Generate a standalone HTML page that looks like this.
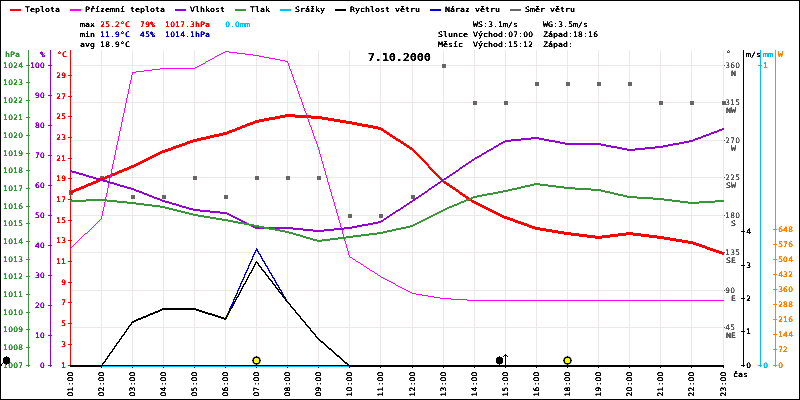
<!DOCTYPE html>
<html lang="cs">
<head>
<meta charset="utf-8">
<title>7.10.2000</title>
<style>html,body{margin:0;padding:0;background:#fff;overflow:hidden}svg{display:block;position:absolute;left:0;top:0}text{white-space:pre}</style>
</head>
<body>
<svg width="800" height="400" viewBox="0 0 800 400" font-family='"DejaVu Sans Mono","Liberation Mono",monospace' font-size="7.5">
<rect x="0" y="0" width="800" height="400" fill="#ffffff"/>
<g shape-rendering="crispEdges">
<rect x="101" y="50" width="1" height="315" fill="#ece8e7"/>
<rect x="132" y="50" width="1" height="315" fill="#ece8e7"/>
<rect x="163" y="50" width="1" height="315" fill="#ece8e7"/>
<rect x="194" y="50" width="1" height="315" fill="#ece8e7"/>
<rect x="225" y="50" width="1" height="315" fill="#ece8e7"/>
<rect x="256" y="50" width="1" height="315" fill="#ece8e7"/>
<rect x="287" y="50" width="1" height="315" fill="#ece8e7"/>
<rect x="318" y="50" width="1" height="315" fill="#ece8e7"/>
<rect x="349" y="50" width="1" height="315" fill="#ece8e7"/>
<rect x="380" y="50" width="1" height="315" fill="#ece8e7"/>
<rect x="412" y="50" width="1" height="315" fill="#ece8e7"/>
<rect x="443" y="50" width="1" height="315" fill="#ece8e7"/>
<rect x="474" y="50" width="1" height="315" fill="#ece8e7"/>
<rect x="505" y="50" width="1" height="315" fill="#ece8e7"/>
<rect x="536" y="50" width="1" height="315" fill="#ece8e7"/>
<rect x="567" y="50" width="1" height="315" fill="#ece8e7"/>
<rect x="598" y="50" width="1" height="315" fill="#ece8e7"/>
<rect x="629" y="50" width="1" height="315" fill="#ece8e7"/>
<rect x="660" y="50" width="1" height="315" fill="#ece8e7"/>
<rect x="691" y="50" width="1" height="315" fill="#ece8e7"/>
<rect x="723" y="50" width="1" height="315" fill="#ece8e7"/>
<rect x="72" y="327" width="652" height="1" fill="#ece8e7"/>
<rect x="72" y="290" width="652" height="1" fill="#ece8e7"/>
<rect x="72" y="252" width="652" height="1" fill="#ece8e7"/>
<rect x="72" y="215" width="652" height="1" fill="#ece8e7"/>
<rect x="72" y="177" width="652" height="1" fill="#ece8e7"/>
<rect x="72" y="140" width="652" height="1" fill="#ece8e7"/>
<rect x="72" y="102" width="652" height="1" fill="#ece8e7"/>
<rect x="72" y="65" width="652" height="1" fill="#ece8e7"/>
<rect x="70" y="50" width="1" height="317" fill="#ff0000"/>
<rect x="68" y="365" width="4" height="1" fill="#ff0000"/>
<rect x="68" y="344" width="4" height="1" fill="#ff0000"/>
<rect x="68" y="323" width="4" height="1" fill="#ff0000"/>
<rect x="68" y="302" width="4" height="1" fill="#ff0000"/>
<rect x="68" y="282" width="4" height="1" fill="#ff0000"/>
<rect x="68" y="261" width="4" height="1" fill="#ff0000"/>
<rect x="68" y="240" width="4" height="1" fill="#ff0000"/>
<rect x="68" y="220" width="4" height="1" fill="#ff0000"/>
<rect x="68" y="199" width="4" height="1" fill="#ff0000"/>
<rect x="68" y="178" width="4" height="1" fill="#ff0000"/>
<rect x="68" y="158" width="4" height="1" fill="#ff0000"/>
<rect x="68" y="137" width="4" height="1" fill="#ff0000"/>
<rect x="68" y="116" width="4" height="1" fill="#ff0000"/>
<rect x="68" y="96" width="4" height="1" fill="#ff0000"/>
<rect x="68" y="75" width="4" height="1" fill="#ff0000"/>
<rect x="69" y="190" width="4" height="5" fill="#666666"/>
<rect x="100" y="176" width="4" height="4" fill="#666666"/>
<rect x="131" y="195" width="4" height="4" fill="#666666"/>
<rect x="162" y="195" width="4" height="4" fill="#666666"/>
<rect x="193" y="176" width="4" height="4" fill="#666666"/>
<rect x="224" y="195" width="4" height="4" fill="#666666"/>
<rect x="255" y="176" width="4" height="4" fill="#666666"/>
<rect x="286" y="176" width="4" height="4" fill="#666666"/>
<rect x="317" y="176" width="4" height="4" fill="#666666"/>
<rect x="348" y="214" width="4" height="4" fill="#666666"/>
<rect x="379" y="214" width="4" height="4" fill="#666666"/>
<rect x="411" y="195" width="4" height="4" fill="#666666"/>
<rect x="442" y="64" width="4" height="4" fill="#666666"/>
<rect x="473" y="101" width="4" height="4" fill="#666666"/>
<rect x="504" y="101" width="4" height="4" fill="#666666"/>
<rect x="535" y="82" width="4" height="4" fill="#666666"/>
<rect x="566" y="82" width="4" height="4" fill="#666666"/>
<rect x="597" y="82" width="4" height="4" fill="#666666"/>
<rect x="628" y="82" width="4" height="4" fill="#666666"/>
<rect x="659" y="101" width="4" height="4" fill="#666666"/>
<rect x="690" y="101" width="4" height="4" fill="#666666"/>
<rect x="722" y="101" width="4" height="4" fill="#666666"/>
<path fill="#ff0000" d="M285 114h10v1h-10zM280 115h31v1h-31zM275 116h47v1h-47zM269 117h16v1h-16zM295 117h33v1h-33zM264 118h16v1h-16zM311 118h23v1h-23zM259 119h16v1h-16zM322 119h18v1h-18zM255 120h14v1h-14zM328 120h18v1h-18zM253 121h11v1h-11zM334 121h18v1h-18zM250 122h9v1h-9zM340 122h17v1h-17zM247 123h8v1h-8zM346 123h16v1h-16zM245 124h8v1h-8zM352 124h16v1h-16zM242 125h8v1h-8zM357 125h16v1h-16zM240 126h7v1h-7zM362 126h16v1h-16zM237 127h8v1h-8zM368 127h13v1h-13zM235 128h7v1h-7zM373 128h10v1h-10zM232 129h8v1h-8zM378 129h6v1h-6zM229 130h8v1h-8zM381 130h5v1h-5zM227 131h8v1h-8zM383 131h4v1h-4zM223 132h9v1h-9zM384 132h5v1h-5zM219 133h10v1h-10zM386 133h4v1h-4zM214 134h13v1h-13zM387 134h5v1h-5zM210 135h13v1h-13zM389 135h4v1h-4zM206 136h13v1h-13zM390 136h5v1h-5zM201 137h13v1h-13zM392 137h4v1h-4zM197 138h13v1h-13zM393 138h5v1h-5zM193 139h13v1h-13zM395 139h5v1h-5zM190 140h11v1h-11zM396 140h5v1h-5zM187 141h10v1h-10zM398 141h5v1h-5zM185 142h8v1h-8zM400 142h4v1h-4zM182 143h8v1h-8zM401 143h5v1h-5zM179 144h8v1h-8zM403 144h4v1h-4zM176 145h9v1h-9zM404 145h5v1h-5zM173 146h9v1h-9zM406 146h4v1h-4zM171 147h8v1h-8zM407 147h5v1h-5zM168 148h8v1h-8zM409 148h4v1h-4zM165 149h8v1h-8zM410 149h4v1h-4zM162 150h9v1h-9zM412 150h3v1h-3zM160 151h8v1h-8zM413 151h3v1h-3zM158 152h7v1h-7zM414 152h3v1h-3zM156 153h6v1h-6zM415 153h3v1h-3zM154 154h6v1h-6zM416 154h3v1h-3zM152 155h6v1h-6zM417 155h3v1h-3zM150 156h6v1h-6zM418 156h3v1h-3zM148 157h6v1h-6zM419 157h3v1h-3zM146 158h6v1h-6zM420 158h3v1h-3zM144 159h6v1h-6zM421 159h3v1h-3zM142 160h6v1h-6zM422 160h3v1h-3zM140 161h6v1h-6zM423 161h3v1h-3zM138 162h6v1h-6zM424 162h3v1h-3zM136 163h6v1h-6zM425 163h3v1h-3zM134 164h6v1h-6zM426 164h3v1h-3zM131 165h7v1h-7zM427 165h2v1h-2zM129 166h7v1h-7zM428 166h2v1h-2zM127 167h7v1h-7zM428 167h3v1h-3zM124 168h7v1h-7zM429 168h3v1h-3zM122 169h7v1h-7zM430 169h3v1h-3zM119 170h8v1h-8zM431 170h3v1h-3zM117 171h7v1h-7zM432 171h3v1h-3zM115 172h7v1h-7zM433 172h3v1h-3zM112 173h7v1h-7zM434 173h3v1h-3zM110 174h7v1h-7zM435 174h3v1h-3zM107 175h8v1h-8zM436 175h3v1h-3zM105 176h7v1h-7zM437 176h3v1h-3zM103 177h7v1h-7zM438 177h3v1h-3zM100 178h7v1h-7zM439 178h3v1h-3zM98 179h7v1h-7zM440 179h3v1h-3zM96 180h7v1h-7zM441 180h3v1h-3zM93 181h7v1h-7zM442 181h4v1h-4zM91 182h7v1h-7zM443 182h4v1h-4zM88 183h8v1h-8zM444 183h5v1h-5zM86 184h7v1h-7zM446 184h4v1h-4zM84 185h7v1h-7zM447 185h5v1h-5zM81 186h7v1h-7zM449 186h4v1h-4zM79 187h7v1h-7zM450 187h5v1h-5zM76 188h8v1h-8zM452 188h4v1h-4zM74 189h7v1h-7zM453 189h5v1h-5zM72 190h7v1h-7zM455 190h4v1h-4zM70 191h6v1h-6zM456 191h4v1h-4zM70 192h4v1h-4zM458 192h4v1h-4zM70 193h2v1h-2zM459 193h4v1h-4zM460 194h5v1h-5zM462 195h4v1h-4zM463 196h5v1h-5zM465 197h4v1h-4zM466 198h5v1h-5zM468 199h4v1h-4zM469 200h5v1h-5zM471 201h5v1h-5zM472 202h6v1h-6zM474 203h6v1h-6zM476 204h6v1h-6zM478 205h6v1h-6zM480 206h6v1h-6zM482 207h6v1h-6zM484 208h6v1h-6zM486 209h6v1h-6zM488 210h6v1h-6zM490 211h6v1h-6zM492 212h6v1h-6zM494 213h6v1h-6zM496 214h6v1h-6zM498 215h6v1h-6zM500 216h7v1h-7zM502 217h8v1h-8zM504 218h9v1h-9zM507 219h8v1h-8zM510 220h8v1h-8zM513 221h8v1h-8zM515 222h9v1h-9zM518 223h9v1h-9zM521 224h8v1h-8zM524 225h8v1h-8zM527 226h8v1h-8zM529 227h11v1h-11zM532 228h14v1h-14zM535 229h17v1h-17zM540 230h18v1h-18zM546 231h18v1h-18zM552 232h19v1h-19zM626 232h7v1h-7zM558 233h21v1h-21zM618 233h23v1h-23zM564 234h23v1h-23zM610 234h39v1h-39zM571 235h24v1h-24zM602 235h24v1h-24zM633 235h24v1h-24zM579 236h39v1h-39zM641 236h23v1h-23zM587 237h23v1h-23zM649 237h21v1h-21zM595 238h7v1h-7zM657 238h19v1h-19zM664 239h18v1h-18zM670 240h18v1h-18zM676 241h17v1h-17zM682 242h14v1h-14zM688 243h11v1h-11zM693 244h9v1h-9zM696 245h9v1h-9zM699 246h8v1h-8zM702 247h8v1h-8zM705 248h8v1h-8zM707 249h9v1h-9zM710 250h9v1h-9zM713 251h9v1h-9zM716 252h8v1h-8zM719 253h5v1h-5zM722 254h2v1h-2z"/>
<path fill="#ff00ff" d="M225 51h4v1h-4zM223 52h2v1h-2zM229 52h8v1h-8zM221 53h2v1h-2zM237 53h8v1h-8zM219 54h2v1h-2zM245 54h8v1h-8zM217 55h2v1h-2zM253 55h6v1h-6zM215 56h2v1h-2zM259 56h5v1h-5zM214 57h1v1h-1zM264 57h5v1h-5zM212 58h2v1h-2zM269 58h6v1h-6zM210 59h2v1h-2zM275 59h5v1h-5zM208 60h2v1h-2zM280 60h5v1h-5zM206 61h2v1h-2zM285 61h3v1h-3zM205 62h1v1h-1zM287 62h1v1h-1zM203 63h2v1h-2zM288 63h1v1h-1zM201 64h2v1h-2zM288 64h1v1h-1zM199 65h2v1h-2zM288 65h1v1h-1zM197 66h2v1h-2zM289 66h1v1h-1zM195 67h2v1h-2zM289 67h1v1h-1zM160 68h35v1h-35zM289 68h1v1h-1zM152 69h8v1h-8zM290 69h1v1h-1zM144 70h8v1h-8zM290 70h1v1h-1zM136 71h8v1h-8zM291 71h1v1h-1zM132 72h4v1h-4zM291 72h1v1h-1zM132 73h1v1h-1zM291 73h1v1h-1zM132 74h1v1h-1zM292 74h1v1h-1zM131 75h1v1h-1zM292 75h1v1h-1zM131 76h1v1h-1zM292 76h1v1h-1zM131 77h1v1h-1zM293 77h1v1h-1zM131 78h1v1h-1zM293 78h1v1h-1zM131 79h1v1h-1zM293 79h1v1h-1zM130 80h1v1h-1zM294 80h1v1h-1zM130 81h1v1h-1zM294 81h1v1h-1zM130 82h1v1h-1zM294 82h1v1h-1zM130 83h1v1h-1zM295 83h1v1h-1zM129 84h1v1h-1zM295 84h1v1h-1zM129 85h1v1h-1zM296 85h1v1h-1zM129 86h1v1h-1zM296 86h1v1h-1zM129 87h1v1h-1zM296 87h1v1h-1zM129 88h1v1h-1zM297 88h1v1h-1zM128 89h1v1h-1zM297 89h1v1h-1zM128 90h1v1h-1zM297 90h1v1h-1zM128 91h1v1h-1zM298 91h1v1h-1zM128 92h1v1h-1zM298 92h1v1h-1zM128 93h1v1h-1zM298 93h1v1h-1zM127 94h1v1h-1zM299 94h1v1h-1zM127 95h1v1h-1zM299 95h1v1h-1zM127 96h1v1h-1zM299 96h1v1h-1zM127 97h1v1h-1zM300 97h1v1h-1zM126 98h1v1h-1zM300 98h1v1h-1zM126 99h1v1h-1zM301 99h1v1h-1zM126 100h1v1h-1zM301 100h1v1h-1zM126 101h1v1h-1zM301 101h1v1h-1zM126 102h1v1h-1zM302 102h1v1h-1zM125 103h1v1h-1zM302 103h1v1h-1zM125 104h1v1h-1zM302 104h1v1h-1zM125 105h1v1h-1zM303 105h1v1h-1zM125 106h1v1h-1zM303 106h1v1h-1zM125 107h1v1h-1zM303 107h1v1h-1zM124 108h1v1h-1zM304 108h1v1h-1zM124 109h1v1h-1zM304 109h1v1h-1zM124 110h1v1h-1zM304 110h1v1h-1zM124 111h1v1h-1zM305 111h1v1h-1zM124 112h1v1h-1zM305 112h1v1h-1zM123 113h1v1h-1zM306 113h1v1h-1zM123 114h1v1h-1zM306 114h1v1h-1zM123 115h1v1h-1zM306 115h1v1h-1zM123 116h1v1h-1zM307 116h1v1h-1zM122 117h1v1h-1zM307 117h1v1h-1zM122 118h1v1h-1zM307 118h1v1h-1zM122 119h1v1h-1zM308 119h1v1h-1zM122 120h1v1h-1zM308 120h1v1h-1zM122 121h1v1h-1zM308 121h1v1h-1zM121 122h1v1h-1zM309 122h1v1h-1zM121 123h1v1h-1zM309 123h1v1h-1zM121 124h1v1h-1zM309 124h1v1h-1zM121 125h1v1h-1zM310 125h1v1h-1zM121 126h1v1h-1zM310 126h1v1h-1zM120 127h1v1h-1zM311 127h1v1h-1zM120 128h1v1h-1zM311 128h1v1h-1zM120 129h1v1h-1zM311 129h1v1h-1zM120 130h1v1h-1zM312 130h1v1h-1zM119 131h1v1h-1zM312 131h1v1h-1zM119 132h1v1h-1zM312 132h1v1h-1zM119 133h1v1h-1zM313 133h1v1h-1zM119 134h1v1h-1zM313 134h1v1h-1zM119 135h1v1h-1zM313 135h1v1h-1zM118 136h1v1h-1zM314 136h1v1h-1zM118 137h1v1h-1zM314 137h1v1h-1zM118 138h1v1h-1zM314 138h1v1h-1zM118 139h1v1h-1zM315 139h1v1h-1zM118 140h1v1h-1zM315 140h1v1h-1zM117 141h1v1h-1zM316 141h1v1h-1zM117 142h1v1h-1zM316 142h1v1h-1zM117 143h1v1h-1zM316 143h1v1h-1zM117 144h1v1h-1zM317 144h1v1h-1zM116 145h1v1h-1zM317 145h1v1h-1zM116 146h1v1h-1zM317 146h1v1h-1zM116 147h1v1h-1zM318 147h1v1h-1zM116 148h1v1h-1zM318 148h1v1h-1zM116 149h1v1h-1zM318 149h1v1h-1zM115 150h1v1h-1zM319 150h1v1h-1zM115 151h1v1h-1zM319 151h1v1h-1zM115 152h1v1h-1zM319 152h1v1h-1zM115 153h1v1h-1zM319 153h1v1h-1zM115 154h1v1h-1zM320 154h1v1h-1zM114 155h1v1h-1zM320 155h1v1h-1zM114 156h1v1h-1zM320 156h1v1h-1zM114 157h1v1h-1zM321 157h1v1h-1zM114 158h1v1h-1zM321 158h1v1h-1zM114 159h1v1h-1zM321 159h1v1h-1zM113 160h1v1h-1zM321 160h1v1h-1zM113 161h1v1h-1zM322 161h1v1h-1zM113 162h1v1h-1zM322 162h1v1h-1zM113 163h1v1h-1zM322 163h1v1h-1zM112 164h1v1h-1zM323 164h1v1h-1zM112 165h1v1h-1zM323 165h1v1h-1zM112 166h1v1h-1zM323 166h1v1h-1zM112 167h1v1h-1zM323 167h1v1h-1zM112 168h1v1h-1zM324 168h1v1h-1zM111 169h1v1h-1zM324 169h1v1h-1zM111 170h1v1h-1zM324 170h1v1h-1zM111 171h1v1h-1zM325 171h1v1h-1zM111 172h1v1h-1zM325 172h1v1h-1zM111 173h1v1h-1zM325 173h1v1h-1zM110 174h1v1h-1zM325 174h1v1h-1zM110 175h1v1h-1zM326 175h1v1h-1zM110 176h1v1h-1zM326 176h1v1h-1zM110 177h1v1h-1zM326 177h1v1h-1zM109 178h1v1h-1zM327 178h1v1h-1zM109 179h1v1h-1zM327 179h1v1h-1zM109 180h1v1h-1zM327 180h1v1h-1zM109 181h1v1h-1zM327 181h1v1h-1zM109 182h1v1h-1zM328 182h1v1h-1zM108 183h1v1h-1zM328 183h1v1h-1zM108 184h1v1h-1zM328 184h1v1h-1zM108 185h1v1h-1zM329 185h1v1h-1zM108 186h1v1h-1zM329 186h1v1h-1zM108 187h1v1h-1zM329 187h1v1h-1zM107 188h1v1h-1zM329 188h1v1h-1zM107 189h1v1h-1zM330 189h1v1h-1zM107 190h1v1h-1zM330 190h1v1h-1zM107 191h1v1h-1zM330 191h1v1h-1zM107 192h1v1h-1zM331 192h1v1h-1zM106 193h1v1h-1zM331 193h1v1h-1zM106 194h1v1h-1zM331 194h1v1h-1zM106 195h1v1h-1zM331 195h1v1h-1zM106 196h1v1h-1zM332 196h1v1h-1zM105 197h1v1h-1zM332 197h1v1h-1zM105 198h1v1h-1zM332 198h1v1h-1zM105 199h1v1h-1zM333 199h1v1h-1zM105 200h1v1h-1zM333 200h1v1h-1zM105 201h1v1h-1zM333 201h1v1h-1zM104 202h1v1h-1zM334 202h1v1h-1zM104 203h1v1h-1zM334 203h1v1h-1zM104 204h1v1h-1zM334 204h1v1h-1zM104 205h1v1h-1zM334 205h1v1h-1zM104 206h1v1h-1zM335 206h1v1h-1zM103 207h1v1h-1zM335 207h1v1h-1zM103 208h1v1h-1zM335 208h1v1h-1zM103 209h1v1h-1zM336 209h1v1h-1zM103 210h1v1h-1zM336 210h1v1h-1zM102 211h1v1h-1zM336 211h1v1h-1zM102 212h1v1h-1zM336 212h1v1h-1zM102 213h1v1h-1zM337 213h1v1h-1zM102 214h1v1h-1zM337 214h1v1h-1zM102 215h1v1h-1zM337 215h1v1h-1zM101 216h1v1h-1zM338 216h1v1h-1zM101 217h1v1h-1zM338 217h1v1h-1zM101 218h1v1h-1zM338 218h1v1h-1zM100 219h1v1h-1zM338 219h1v1h-1zM99 220h1v1h-1zM339 220h1v1h-1zM98 221h1v1h-1zM339 221h1v1h-1zM97 222h1v1h-1zM339 222h1v1h-1zM96 223h1v1h-1zM340 223h1v1h-1zM95 224h1v1h-1zM340 224h1v1h-1zM94 225h1v1h-1zM340 225h1v1h-1zM93 226h1v1h-1zM340 226h1v1h-1zM92 227h1v1h-1zM341 227h1v1h-1zM91 228h1v1h-1zM341 228h1v1h-1zM90 229h1v1h-1zM341 229h1v1h-1zM89 230h1v1h-1zM342 230h1v1h-1zM88 231h1v1h-1zM342 231h1v1h-1zM87 232h1v1h-1zM342 232h1v1h-1zM85 233h2v1h-2zM342 233h1v1h-1zM84 234h1v1h-1zM343 234h1v1h-1zM83 235h1v1h-1zM343 235h1v1h-1zM82 236h1v1h-1zM343 236h1v1h-1zM81 237h1v1h-1zM344 237h1v1h-1zM80 238h1v1h-1zM344 238h1v1h-1zM79 239h1v1h-1zM344 239h1v1h-1zM78 240h1v1h-1zM344 240h1v1h-1zM77 241h1v1h-1zM345 241h1v1h-1zM76 242h1v1h-1zM345 242h1v1h-1zM75 243h1v1h-1zM345 243h1v1h-1zM74 244h1v1h-1zM346 244h1v1h-1zM73 245h1v1h-1zM346 245h1v1h-1zM72 246h1v1h-1zM346 246h1v1h-1zM71 247h1v1h-1zM346 247h1v1h-1zM70 248h1v1h-1zM347 248h1v1h-1zM347 249h1v1h-1zM347 250h1v1h-1zM348 251h1v1h-1zM348 252h1v1h-1zM348 253h1v1h-1zM348 254h1v1h-1zM349 255h1v1h-1zM349 256h1v1h-1zM350 257h2v1h-2zM352 258h1v1h-1zM353 259h2v1h-2zM355 260h1v1h-1zM356 261h2v1h-2zM358 262h2v1h-2zM360 263h1v1h-1zM361 264h2v1h-2zM363 265h1v1h-1zM364 266h2v1h-2zM366 267h1v1h-1zM367 268h2v1h-2zM369 269h1v1h-1zM370 270h2v1h-2zM372 271h2v1h-2zM374 272h1v1h-1zM375 273h2v1h-2zM377 274h1v1h-1zM378 275h2v1h-2zM380 276h1v1h-1zM381 277h2v1h-2zM383 278h2v1h-2zM385 279h2v1h-2zM387 280h2v1h-2zM389 281h2v1h-2zM391 282h2v1h-2zM393 283h2v1h-2zM395 284h1v1h-1zM396 285h2v1h-2zM398 286h2v1h-2zM400 287h2v1h-2zM402 288h2v1h-2zM404 289h2v1h-2zM406 290h2v1h-2zM408 291h2v1h-2zM410 292h2v1h-2zM412 293h4v1h-4zM416 294h6v1h-6zM422 295h6v1h-6zM428 296h6v1h-6zM434 297h6v1h-6zM440 298h11v1h-11zM451 299h16v1h-16zM467 300h257v1h-257z"/>
<path fill="#9400d3" d="M722 128h2v1h-2zM719 129h5v1h-5zM717 130h5v1h-5zM714 131h5v1h-5zM711 132h6v1h-6zM709 133h5v1h-5zM706 134h5v1h-5zM703 135h6v1h-6zM701 136h5v1h-5zM531 137h8v1h-8zM698 137h5v1h-5zM521 138h23v1h-23zM695 138h6v1h-6zM511 139h20v1h-20zM539 139h10v1h-10zM693 139h5v1h-5zM505 140h16v1h-16zM544 140h11v1h-11zM689 140h6v1h-6zM503 141h8v1h-8zM549 141h11v1h-11zM684 141h9v1h-9zM501 142h4v1h-4zM555 142h10v1h-10zM679 142h10v1h-10zM499 143h4v1h-4zM560 143h41v1h-41zM673 143h11v1h-11zM498 144h3v1h-3zM565 144h41v1h-41zM668 144h11v1h-11zM496 145h3v1h-3zM601 145h10v1h-10zM663 145h10v1h-10zM494 146h4v1h-4zM606 146h11v1h-11zM655 146h13v1h-13zM493 147h3v1h-3zM611 147h11v1h-11zM645 147h18v1h-18zM491 148h3v1h-3zM617 148h10v1h-10zM635 148h20v1h-20zM489 149h4v1h-4zM622 149h23v1h-23zM487 150h4v1h-4zM627 150h8v1h-8zM486 151h3v1h-3zM484 152h3v1h-3zM482 153h4v1h-4zM481 154h3v1h-3zM479 155h3v1h-3zM477 156h4v1h-4zM475 157h4v1h-4zM474 158h3v1h-3zM472 159h3v1h-3zM471 160h3v1h-3zM469 161h3v1h-3zM468 162h3v1h-3zM466 163h3v1h-3zM465 164h3v1h-3zM463 165h3v1h-3zM462 166h3v1h-3zM460 167h3v1h-3zM459 168h3v1h-3zM458 169h2v1h-2zM70 170h2v1h-2zM456 170h3v1h-3zM70 171h6v1h-6zM455 171h3v1h-3zM72 172h7v1h-7zM453 172h3v1h-3zM76 173h7v1h-7zM452 173h3v1h-3zM79 174h7v1h-7zM450 174h3v1h-3zM83 175h6v1h-6zM449 175h3v1h-3zM86 176h7v1h-7zM447 176h3v1h-3zM89 177h7v1h-7zM446 177h3v1h-3zM93 178h7v1h-7zM444 178h3v1h-3zM96 179h7v1h-7zM443 179h3v1h-3zM100 180h7v1h-7zM441 180h3v1h-3zM103 181h7v1h-7zM440 181h3v1h-3zM107 182h7v1h-7zM438 182h3v1h-3zM110 183h7v1h-7zM437 183h3v1h-3zM114 184h6v1h-6zM435 184h3v1h-3zM117 185h7v1h-7zM434 185h3v1h-3zM120 186h7v1h-7zM432 186h3v1h-3zM124 187h7v1h-7zM431 187h3v1h-3zM127 188h7v1h-7zM429 188h3v1h-3zM131 189h5v1h-5zM428 189h3v1h-3zM134 190h5v1h-5zM427 190h2v1h-2zM136 191h6v1h-6zM425 191h3v1h-3zM139 192h5v1h-5zM424 192h3v1h-3zM142 193h5v1h-5zM422 193h3v1h-3zM144 194h5v1h-5zM421 194h3v1h-3zM147 195h5v1h-5zM419 195h3v1h-3zM149 196h5v1h-5zM418 196h3v1h-3zM152 197h5v1h-5zM416 197h3v1h-3zM154 198h6v1h-6zM415 198h3v1h-3zM157 199h5v1h-5zM413 199h3v1h-3zM160 200h5v1h-5zM412 200h3v1h-3zM162 201h7v1h-7zM410 201h3v1h-3zM165 202h7v1h-7zM409 202h3v1h-3zM169 203h7v1h-7zM407 203h3v1h-3zM172 204h7v1h-7zM406 204h3v1h-3zM176 205h6v1h-6zM404 205h3v1h-3zM179 206h7v1h-7zM403 206h3v1h-3zM182 207h7v1h-7zM401 207h3v1h-3zM186 208h7v1h-7zM400 208h3v1h-3zM189 209h11v1h-11zM398 209h3v1h-3zM193 210h17v1h-17zM396 210h4v1h-4zM200 211h20v1h-20zM395 211h3v1h-3zM210 212h17v1h-17zM393 212h3v1h-3zM220 213h9v1h-9zM392 213h3v1h-3zM227 214h4v1h-4zM390 214h3v1h-3zM229 215h4v1h-4zM389 215h3v1h-3zM231 216h4v1h-4zM387 216h3v1h-3zM233 217h4v1h-4zM386 217h3v1h-3zM235 218h4v1h-4zM384 218h3v1h-3zM237 219h4v1h-4zM383 219h3v1h-3zM239 220h4v1h-4zM381 220h3v1h-3zM241 221h4v1h-4zM378 221h5v1h-5zM243 222h4v1h-4zM373 222h8v1h-8zM245 223h4v1h-4zM368 223h10v1h-10zM247 224h4v1h-4zM362 224h11v1h-11zM249 225h4v1h-4zM357 225h11v1h-11zM251 226h4v1h-4zM352 226h10v1h-10zM253 227h40v1h-40zM344 227h13v1h-13zM255 228h48v1h-48zM334 228h18v1h-18zM293 229h20v1h-20zM324 229h20v1h-20zM303 230h31v1h-31zM313 231h11v1h-11z"/>
<path fill="#389638" d="M534 183h6v1h-6zM530 184h18v1h-18zM525 185h9v1h-9zM540 185h16v1h-16zM521 186h9v1h-9zM548 186h16v1h-16zM517 187h8v1h-8zM556 187h19v1h-19zM512 188h9v1h-9zM564 188h27v1h-27zM508 189h9v1h-9zM575 189h26v1h-26zM503 190h9v1h-9zM591 190h14v1h-14zM498 191h10v1h-10zM601 191h9v1h-9zM493 192h10v1h-10zM605 192h9v1h-9zM487 193h11v1h-11zM610 193h8v1h-8zM482 194h11v1h-11zM614 194h9v1h-9zM477 195h10v1h-10zM618 195h9v1h-9zM473 196h9v1h-9zM623 196h14v1h-14zM471 197h6v1h-6zM627 197h26v1h-26zM469 198h4v1h-4zM637 198h27v1h-27zM86 199h21v1h-21zM466 199h5v1h-5zM653 199h19v1h-19zM70 200h47v1h-47zM464 200h5v1h-5zM664 200h16v1h-16zM715 200h9v1h-9zM70 201h16v1h-16zM107 201h20v1h-20zM461 201h5v1h-5zM672 201h16v1h-16zM699 201h25v1h-25zM117 202h19v1h-19zM459 202h5v1h-5zM680 202h35v1h-35zM127 203h17v1h-17zM457 203h4v1h-4zM688 203h11v1h-11zM136 204h16v1h-16zM454 204h5v1h-5zM144 205h16v1h-16zM452 205h5v1h-5zM152 206h13v1h-13zM449 206h5v1h-5zM160 207h9v1h-9zM447 207h5v1h-5zM165 208h8v1h-8zM445 208h4v1h-4zM169 209h8v1h-8zM443 209h4v1h-4zM173 210h8v1h-8zM441 210h4v1h-4zM177 211h8v1h-8zM439 211h4v1h-4zM181 212h8v1h-8zM437 212h4v1h-4zM185 213h8v1h-8zM435 213h4v1h-4zM189 214h9v1h-9zM433 214h4v1h-4zM193 215h11v1h-11zM431 215h4v1h-4zM198 216h12v1h-12zM429 216h4v1h-4zM204 217h12v1h-12zM427 217h4v1h-4zM210 218h12v1h-12zM425 218h4v1h-4zM216 219h12v1h-12zM423 219h4v1h-4zM222 220h11v1h-11zM421 220h4v1h-4zM228 221h10v1h-10zM419 221h4v1h-4zM233 222h11v1h-11zM417 222h4v1h-4zM238 223h11v1h-11zM415 223h4v1h-4zM244 224h10v1h-10zM413 224h4v1h-4zM249 225h10v1h-10zM410 225h5v1h-5zM254 226h10v1h-10zM406 226h7v1h-7zM259 227h10v1h-10zM401 227h9v1h-9zM264 228h11v1h-11zM396 228h10v1h-10zM269 229h11v1h-11zM392 229h9v1h-9zM275 230h10v1h-10zM387 230h9v1h-9zM280 231h9v1h-9zM383 231h9v1h-9zM285 232h8v1h-8zM377 232h10v1h-10zM289 233h7v1h-7zM369 233h14v1h-14zM293 234h7v1h-7zM361 234h16v1h-16zM296 235h7v1h-7zM353 235h16v1h-16zM300 236h6v1h-6zM346 236h15v1h-15zM303 237h7v1h-7zM338 237h15v1h-15zM306 238h7v1h-7zM330 238h16v1h-16zM310 239h7v1h-7zM322 239h16v1h-16zM313 240h17v1h-17zM317 241h5v1h-5z"/>
<rect x="70" y="365" width="654" height="2" fill="#00bfff"/>
<path fill="#0000cd" d="M256 248h1v1h-1zM256 249h2v1h-2zM255 250h3v1h-3zM255 251h1v1h-1zM257 251h2v1h-2zM254 252h2v1h-2zM258 252h1v1h-1zM254 253h1v1h-1zM258 253h2v1h-2zM253 254h2v1h-2zM259 254h2v1h-2zM253 255h1v1h-1zM260 255h1v1h-1zM252 256h2v1h-2zM260 256h2v1h-2zM252 257h1v1h-1zM261 257h1v1h-1zM252 258h1v1h-1zM261 258h2v1h-2zM251 259h2v1h-2zM262 259h1v1h-1zM251 260h1v1h-1zM262 260h2v1h-2zM250 261h2v1h-2zM263 261h2v1h-2zM250 262h1v1h-1zM264 262h1v1h-1zM249 263h2v1h-2zM264 263h2v1h-2zM249 264h1v1h-1zM265 264h1v1h-1zM248 265h2v1h-2zM265 265h2v1h-2zM248 266h1v1h-1zM266 266h2v1h-2zM248 267h1v1h-1zM267 267h1v1h-1zM247 268h2v1h-2zM267 268h2v1h-2zM247 269h1v1h-1zM268 269h1v1h-1zM246 270h2v1h-2zM268 270h2v1h-2zM246 271h1v1h-1zM269 271h1v1h-1zM245 272h2v1h-2zM269 272h2v1h-2zM245 273h1v1h-1zM270 273h2v1h-2zM244 274h2v1h-2zM271 274h1v1h-1zM244 275h1v1h-1zM271 275h2v1h-2zM244 276h1v1h-1zM272 276h1v1h-1zM243 277h2v1h-2zM272 277h2v1h-2zM243 278h1v1h-1zM273 278h2v1h-2zM242 279h2v1h-2zM274 279h1v1h-1zM242 280h1v1h-1zM274 280h2v1h-2zM241 281h2v1h-2zM275 281h1v1h-1zM241 282h1v1h-1zM275 282h2v1h-2zM240 283h2v1h-2zM276 283h1v1h-1zM240 284h1v1h-1zM276 284h2v1h-2zM240 285h1v1h-1zM277 285h2v1h-2zM239 286h2v1h-2zM278 286h1v1h-1zM239 287h1v1h-1zM278 287h2v1h-2zM238 288h2v1h-2zM279 288h1v1h-1zM238 289h1v1h-1zM279 289h2v1h-2zM237 290h2v1h-2zM280 290h2v1h-2zM237 291h1v1h-1zM281 291h1v1h-1zM237 292h1v1h-1zM281 292h2v1h-2zM236 293h2v1h-2zM282 293h1v1h-1zM236 294h1v1h-1zM282 294h2v1h-2zM235 295h2v1h-2zM283 295h1v1h-1zM235 296h1v1h-1zM283 296h2v1h-2zM234 297h2v1h-2zM284 297h2v1h-2zM234 298h1v1h-1zM285 298h1v1h-1zM233 299h2v1h-2zM285 299h2v1h-2zM233 300h1v1h-1zM286 300h1v1h-1zM233 301h1v1h-1zM286 301h2v1h-2zM232 302h2v1h-2zM287 302h2v1h-2zM232 303h1v1h-1zM288 303h2v1h-2zM231 304h2v1h-2zM289 304h2v1h-2zM231 305h1v1h-1zM290 305h1v1h-1zM230 306h2v1h-2zM290 306h2v1h-2zM230 307h1v1h-1zM291 307h2v1h-2zM162 308h34v1h-34zM229 308h2v1h-2zM292 308h2v1h-2zM160 309h39v1h-39zM229 309h1v1h-1zM293 309h2v1h-2zM158 310h4v1h-4zM196 310h6v1h-6zM229 310h1v1h-1zM294 310h2v1h-2zM155 311h5v1h-5zM199 311h6v1h-6zM228 311h2v1h-2zM295 311h1v1h-1zM153 312h5v1h-5zM202 312h6v1h-6zM228 312h1v1h-1zM295 312h2v1h-2zM150 313h5v1h-5zM205 313h7v1h-7zM227 313h2v1h-2zM296 313h2v1h-2zM148 314h5v1h-5zM208 314h7v1h-7zM227 314h1v1h-1zM297 314h2v1h-2zM146 315h4v1h-4zM212 315h6v1h-6zM226 315h2v1h-2zM298 315h2v1h-2zM143 316h5v1h-5zM215 316h6v1h-6zM226 316h1v1h-1zM299 316h2v1h-2zM141 317h5v1h-5zM218 317h6v1h-6zM225 317h2v1h-2zM300 317h1v1h-1zM138 318h5v1h-5zM221 318h5v1h-5zM300 318h2v1h-2zM136 319h5v1h-5zM224 319h2v1h-2zM301 319h2v1h-2zM134 320h4v1h-4zM302 320h2v1h-2zM132 321h4v1h-4zM303 321h2v1h-2zM131 322h3v1h-3zM304 322h2v1h-2zM131 323h1v1h-1zM305 323h1v1h-1zM130 324h2v1h-2zM305 324h2v1h-2zM129 325h2v1h-2zM306 325h2v1h-2zM128 326h2v1h-2zM307 326h2v1h-2zM128 327h1v1h-1zM308 327h2v1h-2zM127 328h2v1h-2zM309 328h2v1h-2zM126 329h2v1h-2zM310 329h1v1h-1zM126 330h1v1h-1zM310 330h2v1h-2zM125 331h2v1h-2zM311 331h2v1h-2zM124 332h2v1h-2zM312 332h2v1h-2zM124 333h1v1h-1zM313 333h2v1h-2zM123 334h2v1h-2zM314 334h2v1h-2zM122 335h2v1h-2zM315 335h1v1h-1zM121 336h2v1h-2zM315 336h2v1h-2zM121 337h1v1h-1zM316 337h2v1h-2zM120 338h2v1h-2zM317 338h2v1h-2zM119 339h2v1h-2zM318 339h2v1h-2zM119 340h1v1h-1zM319 340h2v1h-2zM118 341h2v1h-2zM320 341h3v1h-3zM117 342h2v1h-2zM321 342h3v1h-3zM116 343h2v1h-2zM323 343h2v1h-2zM116 344h1v1h-1zM324 344h2v1h-2zM115 345h2v1h-2zM325 345h2v1h-2zM114 346h2v1h-2zM326 346h2v1h-2zM114 347h1v1h-1zM327 347h2v1h-2zM113 348h2v1h-2zM328 348h3v1h-3zM112 349h2v1h-2zM329 349h3v1h-3zM112 350h1v1h-1zM331 350h2v1h-2zM111 351h2v1h-2zM332 351h2v1h-2zM110 352h2v1h-2zM333 352h2v1h-2zM109 353h2v1h-2zM334 353h2v1h-2zM109 354h1v1h-1zM335 354h2v1h-2zM108 355h2v1h-2zM336 355h3v1h-3zM107 356h2v1h-2zM337 356h3v1h-3zM107 357h1v1h-1zM339 357h2v1h-2zM106 358h2v1h-2zM340 358h2v1h-2zM105 359h2v1h-2zM341 359h2v1h-2zM105 360h1v1h-1zM342 360h2v1h-2zM104 361h2v1h-2zM343 361h2v1h-2zM103 362h2v1h-2zM344 362h3v1h-3zM102 363h2v1h-2zM345 363h3v1h-3zM102 364h1v1h-1zM347 364h2v1h-2zM70 365h33v1h-33zM348 365h376v1h-376zM70 366h32v1h-32zM349 366h375v1h-375z"/>
<path fill="#000000" d="M256 261h1v1h-1zM255 262h3v1h-3zM255 263h1v1h-1zM257 263h2v1h-2zM254 264h2v1h-2zM258 264h1v1h-1zM254 265h1v1h-1zM258 265h2v1h-2zM253 266h2v1h-2zM259 266h2v1h-2zM253 267h1v1h-1zM260 267h2v1h-2zM252 268h2v1h-2zM261 268h1v1h-1zM252 269h1v1h-1zM261 269h2v1h-2zM251 270h2v1h-2zM262 270h2v1h-2zM251 271h1v1h-1zM263 271h2v1h-2zM250 272h2v1h-2zM264 272h2v1h-2zM249 273h2v1h-2zM265 273h1v1h-1zM249 274h1v1h-1zM265 274h2v1h-2zM248 275h2v1h-2zM266 275h2v1h-2zM248 276h1v1h-1zM267 276h2v1h-2zM247 277h2v1h-2zM268 277h1v1h-1zM247 278h1v1h-1zM268 278h2v1h-2zM246 279h2v1h-2zM269 279h2v1h-2zM246 280h1v1h-1zM270 280h2v1h-2zM245 281h2v1h-2zM271 281h2v1h-2zM245 282h1v1h-1zM272 282h1v1h-1zM244 283h2v1h-2zM272 283h2v1h-2zM243 284h2v1h-2zM273 284h2v1h-2zM243 285h1v1h-1zM274 285h2v1h-2zM242 286h2v1h-2zM275 286h1v1h-1zM242 287h1v1h-1zM275 287h2v1h-2zM241 288h2v1h-2zM276 288h2v1h-2zM241 289h1v1h-1zM277 289h2v1h-2zM240 290h2v1h-2zM278 290h1v1h-1zM240 291h1v1h-1zM278 291h2v1h-2zM239 292h2v1h-2zM279 292h2v1h-2zM239 293h1v1h-1zM280 293h2v1h-2zM238 294h2v1h-2zM281 294h2v1h-2zM238 295h1v1h-1zM282 295h1v1h-1zM237 296h2v1h-2zM282 296h2v1h-2zM236 297h2v1h-2zM283 297h2v1h-2zM236 298h1v1h-1zM284 298h2v1h-2zM235 299h2v1h-2zM285 299h1v1h-1zM235 300h1v1h-1zM285 300h2v1h-2zM234 301h2v1h-2zM286 301h2v1h-2zM234 302h1v1h-1zM287 302h2v1h-2zM233 303h2v1h-2zM288 303h2v1h-2zM233 304h1v1h-1zM289 304h2v1h-2zM232 305h2v1h-2zM290 305h1v1h-1zM232 306h1v1h-1zM290 306h2v1h-2zM231 307h2v1h-2zM291 307h2v1h-2zM162 308h34v1h-34zM230 308h2v1h-2zM292 308h2v1h-2zM160 309h39v1h-39zM230 309h1v1h-1zM293 309h2v1h-2zM158 310h4v1h-4zM196 310h6v1h-6zM229 310h2v1h-2zM294 310h2v1h-2zM155 311h5v1h-5zM199 311h6v1h-6zM229 311h1v1h-1zM295 311h1v1h-1zM153 312h5v1h-5zM202 312h6v1h-6zM228 312h2v1h-2zM295 312h2v1h-2zM150 313h5v1h-5zM205 313h7v1h-7zM228 313h1v1h-1zM296 313h2v1h-2zM148 314h5v1h-5zM208 314h7v1h-7zM227 314h2v1h-2zM297 314h2v1h-2zM146 315h4v1h-4zM212 315h6v1h-6zM227 315h1v1h-1zM298 315h2v1h-2zM143 316h5v1h-5zM215 316h6v1h-6zM226 316h2v1h-2zM299 316h2v1h-2zM141 317h5v1h-5zM218 317h6v1h-6zM226 317h1v1h-1zM300 317h1v1h-1zM138 318h5v1h-5zM221 318h6v1h-6zM300 318h2v1h-2zM136 319h5v1h-5zM224 319h2v1h-2zM301 319h2v1h-2zM134 320h4v1h-4zM302 320h2v1h-2zM132 321h4v1h-4zM303 321h2v1h-2zM131 322h3v1h-3zM304 322h2v1h-2zM131 323h1v1h-1zM305 323h1v1h-1zM130 324h2v1h-2zM305 324h2v1h-2zM129 325h2v1h-2zM306 325h2v1h-2zM128 326h2v1h-2zM307 326h2v1h-2zM128 327h1v1h-1zM308 327h2v1h-2zM127 328h2v1h-2zM309 328h2v1h-2zM126 329h2v1h-2zM310 329h1v1h-1zM126 330h1v1h-1zM310 330h2v1h-2zM125 331h2v1h-2zM311 331h2v1h-2zM124 332h2v1h-2zM312 332h2v1h-2zM124 333h1v1h-1zM313 333h2v1h-2zM123 334h2v1h-2zM314 334h2v1h-2zM122 335h2v1h-2zM315 335h1v1h-1zM121 336h2v1h-2zM315 336h2v1h-2zM121 337h1v1h-1zM316 337h2v1h-2zM120 338h2v1h-2zM317 338h2v1h-2zM119 339h2v1h-2zM318 339h2v1h-2zM119 340h1v1h-1zM319 340h2v1h-2zM118 341h2v1h-2zM320 341h3v1h-3zM117 342h2v1h-2zM321 342h3v1h-3zM116 343h2v1h-2zM323 343h2v1h-2zM116 344h1v1h-1zM324 344h2v1h-2zM115 345h2v1h-2zM325 345h2v1h-2zM114 346h2v1h-2zM326 346h2v1h-2zM114 347h1v1h-1zM327 347h2v1h-2zM113 348h2v1h-2zM328 348h3v1h-3zM112 349h2v1h-2zM329 349h3v1h-3zM112 350h1v1h-1zM331 350h2v1h-2zM111 351h2v1h-2zM332 351h2v1h-2zM110 352h2v1h-2zM333 352h2v1h-2zM109 353h2v1h-2zM334 353h2v1h-2zM109 354h1v1h-1zM335 354h2v1h-2zM108 355h2v1h-2zM336 355h3v1h-3zM107 356h2v1h-2zM337 356h3v1h-3zM107 357h1v1h-1zM339 357h2v1h-2zM106 358h2v1h-2zM340 358h2v1h-2zM105 359h2v1h-2zM341 359h2v1h-2zM105 360h1v1h-1zM342 360h2v1h-2zM104 361h2v1h-2zM343 361h2v1h-2zM103 362h2v1h-2zM344 362h3v1h-3zM102 363h2v1h-2zM345 363h3v1h-3zM102 364h1v1h-1zM347 364h2v1h-2zM70 365h33v1h-33zM348 365h376v1h-376zM70 366h32v1h-32zM349 366h375v1h-375z"/>
<rect x="70" y="365" width="654" height="1" fill="#000000"/>
<rect x="101" y="367" width="1" height="1" fill="#000000"/>
<rect x="132" y="367" width="1" height="1" fill="#000000"/>
<rect x="163" y="367" width="1" height="1" fill="#000000"/>
<rect x="194" y="367" width="1" height="1" fill="#000000"/>
<rect x="225" y="367" width="1" height="1" fill="#000000"/>
<rect x="256" y="367" width="1" height="1" fill="#000000"/>
<rect x="287" y="367" width="1" height="1" fill="#000000"/>
<rect x="318" y="367" width="1" height="1" fill="#000000"/>
<rect x="349" y="367" width="1" height="1" fill="#000000"/>
<rect x="380" y="367" width="1" height="1" fill="#000000"/>
<rect x="412" y="367" width="1" height="1" fill="#000000"/>
<rect x="443" y="367" width="1" height="1" fill="#000000"/>
<rect x="474" y="367" width="1" height="1" fill="#000000"/>
<rect x="505" y="367" width="1" height="1" fill="#000000"/>
<rect x="536" y="367" width="1" height="1" fill="#000000"/>
<rect x="567" y="367" width="1" height="1" fill="#000000"/>
<rect x="598" y="367" width="1" height="1" fill="#000000"/>
<rect x="629" y="367" width="1" height="1" fill="#000000"/>
<rect x="660" y="367" width="1" height="1" fill="#000000"/>
<rect x="691" y="367" width="1" height="1" fill="#000000"/>
<rect x="723" y="367" width="1" height="1" fill="#000000"/>
<rect x="28" y="50" width="1" height="317" fill="#389638"/>
<rect x="50" y="50" width="1" height="317" fill="#9400d3"/>
<rect x="26" y="365" width="4" height="1" fill="#389638"/>
<rect x="26" y="347" width="4" height="1" fill="#389638"/>
<rect x="26" y="329" width="4" height="1" fill="#389638"/>
<rect x="26" y="312" width="4" height="1" fill="#389638"/>
<rect x="26" y="294" width="4" height="1" fill="#389638"/>
<rect x="26" y="276" width="4" height="1" fill="#389638"/>
<rect x="26" y="259" width="4" height="1" fill="#389638"/>
<rect x="26" y="241" width="4" height="1" fill="#389638"/>
<rect x="26" y="223" width="4" height="1" fill="#389638"/>
<rect x="26" y="206" width="4" height="1" fill="#389638"/>
<rect x="26" y="188" width="4" height="1" fill="#389638"/>
<rect x="26" y="170" width="4" height="1" fill="#389638"/>
<rect x="26" y="153" width="4" height="1" fill="#389638"/>
<rect x="26" y="135" width="4" height="1" fill="#389638"/>
<rect x="26" y="117" width="4" height="1" fill="#389638"/>
<rect x="26" y="100" width="4" height="1" fill="#389638"/>
<rect x="26" y="82" width="4" height="1" fill="#389638"/>
<rect x="26" y="65" width="4" height="1" fill="#389638"/>
<rect x="48" y="365" width="4" height="1" fill="#9400d3"/>
<rect x="48" y="335" width="4" height="1" fill="#9400d3"/>
<rect x="48" y="305" width="4" height="1" fill="#9400d3"/>
<rect x="48" y="275" width="4" height="1" fill="#9400d3"/>
<rect x="48" y="245" width="4" height="1" fill="#9400d3"/>
<rect x="48" y="215" width="4" height="1" fill="#9400d3"/>
<rect x="48" y="185" width="4" height="1" fill="#9400d3"/>
<rect x="48" y="155" width="4" height="1" fill="#9400d3"/>
<rect x="48" y="125" width="4" height="1" fill="#9400d3"/>
<rect x="48" y="95" width="4" height="1" fill="#9400d3"/>
<rect x="48" y="65" width="4" height="1" fill="#9400d3"/>
<rect x="743" y="50" width="1" height="317" fill="#000000"/>
<rect x="760" y="50" width="1" height="317" fill="#00bfff"/>
<rect x="775" y="50" width="1" height="317" fill="#ff8200"/>
<rect x="741" y="365" width="4" height="1" fill="#000000"/>
<rect x="741" y="331" width="4" height="1" fill="#000000"/>
<rect x="741" y="298" width="4" height="1" fill="#000000"/>
<rect x="741" y="265" width="4" height="1" fill="#000000"/>
<rect x="741" y="231" width="4" height="1" fill="#000000"/>
<rect x="758" y="365" width="4" height="1" fill="#00bfff"/>
<rect x="758" y="65" width="4" height="1" fill="#00bfff"/>
<rect x="773" y="365" width="4" height="1" fill="#ff8200"/>
<rect x="773" y="349" width="4" height="1" fill="#ff8200"/>
<rect x="773" y="334" width="4" height="1" fill="#ff8200"/>
<rect x="773" y="319" width="4" height="1" fill="#ff8200"/>
<rect x="773" y="304" width="4" height="1" fill="#ff8200"/>
<rect x="773" y="289" width="4" height="1" fill="#ff8200"/>
<rect x="773" y="274" width="4" height="1" fill="#ff8200"/>
<rect x="773" y="259" width="4" height="1" fill="#ff8200"/>
<rect x="773" y="244" width="4" height="1" fill="#ff8200"/>
<rect x="773" y="229" width="4" height="1" fill="#ff8200"/>
<rect x="724" y="327" width="1" height="1" fill="#555555"/>
<rect x="724" y="290" width="1" height="1" fill="#555555"/>
<rect x="724" y="252" width="1" height="1" fill="#555555"/>
<rect x="724" y="215" width="1" height="1" fill="#555555"/>
<rect x="724" y="177" width="1" height="1" fill="#555555"/>
<rect x="724" y="140" width="1" height="1" fill="#555555"/>
<rect x="724" y="102" width="1" height="1" fill="#555555"/>
<rect x="724" y="65" width="1" height="1" fill="#555555"/>
<rect x="10" y="9" width="11" height="2" fill="#ff0000"/>
<rect x="70" y="9" width="11" height="2" fill="#ff00ff"/>
<rect x="175" y="9" width="11" height="2" fill="#9400d3"/>
<rect x="235" y="9" width="11" height="2" fill="#389638"/>
<rect x="280" y="9" width="11" height="2" fill="#00bfff"/>
<rect x="335" y="9" width="11" height="2" fill="#000000"/>
<rect x="430" y="9" width="11" height="2" fill="#0000cd"/>
<rect x="510" y="9" width="11" height="2" fill="#666666"/>
<rect x="0" y="0" width="800" height="1" fill="#000"/>
<rect x="0" y="399" width="800" height="1" fill="#000"/>
<rect x="0" y="0" width="1" height="400" fill="#000"/>
<rect x="799" y="0" width="1" height="400" fill="#000"/>
</g>
<defs><filter id="crisp" x="0" y="0" width="800" height="400" filterUnits="userSpaceOnUse" color-interpolation-filters="sRGB"><feComponentTransfer><feFuncA type="table" tableValues="0 0 1 1"/></feComponentTransfer></filter></defs>
<g filter="url(#crisp)">
<text y="12.00" fill="#000000" stroke="#000000" stroke-width="0.3" transform="scale(1.1,1)" xml:space="preserve"><tspan x="22.74 27.29 31.83 36.38 40.92 45.47 50.01">Teplota</tspan></text>
<text y="12.00" fill="#000000" stroke="#000000" stroke-width="0.3" transform="scale(1.1,1)" xml:space="preserve"><tspan x="77.29 81.83 86.38 90.92 95.47 100.01 104.56 109.11 113.65 118.20 122.74 127.29 131.83 136.38 140.92 145.47">Přízemní teplota</tspan></text>
<text y="12.00" fill="#000000" stroke="#000000" stroke-width="0.3" transform="scale(1.1,1)" xml:space="preserve"><tspan x="172.74 177.29 181.83 186.38 190.92 195.47 200.01">Vlhkost</tspan></text>
<text y="12.00" fill="#000000" stroke="#000000" stroke-width="0.3" transform="scale(1.1,1)" xml:space="preserve"><tspan x="227.29 231.83 236.38 240.92">Tlak</tspan></text>
<text y="12.00" fill="#000000" stroke="#000000" stroke-width="0.3" transform="scale(1.1,1)" xml:space="preserve"><tspan x="268.20 272.74 277.29 281.83 286.38 290.92">Srážky</tspan></text>
<text y="12.00" fill="#000000" stroke="#000000" stroke-width="0.3" transform="scale(1.1,1)" xml:space="preserve"><tspan x="318.20 322.74 327.29 331.83 336.38 340.92 345.47 350.01 354.56 359.11 363.65 368.20 372.74 377.29">Rychlost větru</tspan></text>
<text y="12.00" fill="#000000" stroke="#000000" stroke-width="0.3" transform="scale(1.1,1)" xml:space="preserve"><tspan x="404.56 409.11 413.65 418.20 422.74 427.29 431.83 436.38 440.92 445.47 450.01">Náraz větru</tspan></text>
<text y="12.00" fill="#000000" stroke="#000000" stroke-width="0.3" transform="scale(1.1,1)" xml:space="preserve"><tspan x="477.29 481.83 486.38 490.92 495.47 500.01 504.56 509.11 513.65 518.20">Směr větru</tspan></text>
<text y="27.00" fill="#000000" stroke="#000000" stroke-width="0.3" transform="scale(1.1,1)" xml:space="preserve"><tspan x="72.74 77.29 81.83">max</tspan></text>
<text y="27.00" fill="#ff0000" stroke="#ff0000" stroke-width="0.3" transform="scale(1.1,1)" xml:space="preserve"><tspan x="91.04 95.58 101.20 104.67" font-family='"DejaVu Sans Condensed","DejaVu Sans","Liberation Sans",sans-serif'>25.2</tspan><tspan x="109.11 113.65">°C</tspan></text>
<text y="27.00" fill="#ff0000" stroke="#ff0000" stroke-width="0.3" transform="scale(1.1,1)" xml:space="preserve"><tspan x="127.40 131.94" font-family='"DejaVu Sans Condensed","DejaVu Sans","Liberation Sans",sans-serif'>79</tspan><tspan x="136.38">%</tspan></text>
<text y="27.00" fill="#ff0000" stroke="#ff0000" stroke-width="0.3" transform="scale(1.1,1)" xml:space="preserve"><tspan x="150.13 154.67 159.22 163.76 169.38 172.85" font-family='"DejaVu Sans Condensed","DejaVu Sans","Liberation Sans",sans-serif'>1017.3</tspan><tspan x="177.29 181.83 186.38">hPa</tspan></text>
<text y="27.00" fill="#00bfff" stroke="#00bfff" stroke-width="0.3" transform="scale(1.1,1)" xml:space="preserve"><tspan x="204.67 210.29 213.76" font-family='"DejaVu Sans Condensed","DejaVu Sans","Liberation Sans",sans-serif'>0.0</tspan><tspan x="218.20 222.74">mm</tspan></text>
<text y="37.00" fill="#000000" stroke="#000000" stroke-width="0.3" transform="scale(1.1,1)" xml:space="preserve"><tspan x="72.74 77.29 81.83">min</tspan></text>
<text y="37.00" fill="#0000cd" stroke="#0000cd" stroke-width="0.3" transform="scale(1.1,1)" xml:space="preserve"><tspan x="91.04 95.58 101.20 104.67" font-family='"DejaVu Sans Condensed","DejaVu Sans","Liberation Sans",sans-serif'>11.9</tspan><tspan x="109.11 113.65">°C</tspan></text>
<text y="37.00" fill="#0000cd" stroke="#0000cd" stroke-width="0.3" transform="scale(1.1,1)" xml:space="preserve"><tspan x="127.40 131.94" font-family='"DejaVu Sans Condensed","DejaVu Sans","Liberation Sans",sans-serif'>45</tspan><tspan x="136.38">%</tspan></text>
<text y="37.00" fill="#0000cd" stroke="#0000cd" stroke-width="0.3" transform="scale(1.1,1)" xml:space="preserve"><tspan x="150.13 154.67 159.22 163.76 169.38 172.85" font-family='"DejaVu Sans Condensed","DejaVu Sans","Liberation Sans",sans-serif'>1014.1</tspan><tspan x="177.29 181.83 186.38">hPa</tspan></text>
<text y="47.00" fill="#000000" stroke="#000000" stroke-width="0.3" transform="scale(1.1,1)" xml:space="preserve"><tspan x="72.74 77.29 81.83 86.38">avg </tspan><tspan x="91.04 95.58 101.20 104.67" font-family='"DejaVu Sans Condensed","DejaVu Sans","Liberation Sans",sans-serif'>18.9</tspan><tspan x="109.11 113.65">°C</tspan></text>
<text y="27.00" fill="#000000" stroke="#000000" stroke-width="0.3" transform="scale(1.1,1)" xml:space="preserve"><tspan x="430.01 434.56">WS</tspan><tspan x="440.23 443.76 449.38 452.85" font-family='"DejaVu Sans Condensed","DejaVu Sans","Liberation Sans",sans-serif'>:3.1</tspan><tspan x="457.29 461.83 466.38">m/s</tspan></text>
<text y="27.00" fill="#000000" stroke="#000000" stroke-width="0.3" transform="scale(1.1,1)" xml:space="preserve"><tspan x="493.65 498.20">WG</tspan><tspan x="503.86 507.40 513.02 516.49" font-family='"DejaVu Sans Condensed","DejaVu Sans","Liberation Sans",sans-serif'>:3.5</tspan><tspan x="520.92 525.47 530.01">m/s</tspan></text>
<text y="37.00" fill="#000000" stroke="#000000" stroke-width="0.3" transform="scale(1.1,1)" xml:space="preserve"><tspan x="398.20 402.74 407.29 411.83 416.38 420.92 425.47 430.01 434.56 439.11 443.65 448.20 452.74">Slunce Východ</tspan><tspan x="458.41 461.94 466.49 472.04 475.58 480.13" font-family='"DejaVu Sans Condensed","DejaVu Sans","Liberation Sans",sans-serif'>:07:00</tspan></text>
<text y="37.00" fill="#000000" stroke="#000000" stroke-width="0.3" transform="scale(1.1,1)" xml:space="preserve"><tspan x="493.65 498.20 502.74 507.29 511.83">Západ</tspan><tspan x="517.50 521.04 525.58 531.14 534.67 539.22" font-family='"DejaVu Sans Condensed","DejaVu Sans","Liberation Sans",sans-serif'>:18:16</tspan></text>
<text y="47.00" fill="#000000" stroke="#000000" stroke-width="0.3" transform="scale(1.1,1)" xml:space="preserve"><tspan x="398.20 402.74 407.29 411.83 416.38 420.92 425.47 430.01 434.56 439.11 443.65 448.20 452.74">Měsíc  Východ</tspan><tspan x="458.41 461.94 466.49 472.04 475.58 480.13" font-family='"DejaVu Sans Condensed","DejaVu Sans","Liberation Sans",sans-serif'>:15:12</tspan></text>
<text y="47.00" fill="#000000" stroke="#000000" stroke-width="0.3" transform="scale(1.1,1)" xml:space="preserve"><tspan x="493.65 498.20 502.74 507.29 511.83 516.38">Západ:</tspan></text>
<text y="61.00" fill="#000000" stroke="#000000" stroke-width="0.15" font-weight="bold" font-size="11.0" transform="scale(1.1,1)" xml:space="preserve"><tspan x="334.42 340.78 347.14 353.51 359.87 366.23 372.60 378.96 385.32">7.10.2000</tspan></text>
<text y="57.00" fill="#389638" stroke="#389638" stroke-width="0.3" transform="scale(1.1,1)" xml:space="preserve"><tspan x="4.56 9.11 13.65">hPa</tspan></text>
<text y="57.00" fill="#9400d3" stroke="#9400d3" stroke-width="0.3" transform="scale(1.1,1)" xml:space="preserve"><tspan x="36.38">%</tspan></text>
<text y="57.00" fill="#ff0000" stroke="#ff0000" stroke-width="0.3" transform="scale(1.1,1)" xml:space="preserve"><tspan x="51.83 56.38">°C</tspan></text>
<text y="56.00" fill="#555555" stroke="#555555" stroke-width="0.35" transform="scale(1.1,1)" xml:space="preserve"><tspan x="660.01">°</tspan></text>
<text y="57.00" fill="#000000" stroke="#000000" stroke-width="0.3" transform="scale(1.1,1)" xml:space="preserve"><tspan x="678.20 682.74 687.29">m/s</tspan></text>
<text y="57.00" fill="#00bfff" stroke="#00bfff" stroke-width="0.3" transform="scale(1.1,1)" xml:space="preserve"><tspan x="693.65 698.20">mm</tspan></text>
<text y="57.00" fill="#ff8200" stroke="#ff8200" stroke-width="0.3" transform="scale(1.1,1)" xml:space="preserve"><tspan x="707.29">W</tspan></text>
<text y="377.00" fill="#000000" stroke="#000000" stroke-width="0.3" transform="scale(1.1,1)" xml:space="preserve"><tspan x="666.38 670.92 675.47">čas</tspan></text>
<text y="368.00" fill="#389638" stroke="#389638" stroke-width="0.3" transform="scale(1.1,1)" xml:space="preserve"><tspan x="2.85 7.40 11.94 16.49" font-family='"DejaVu Sans Condensed","DejaVu Sans","Liberation Sans",sans-serif'>1007</tspan></text>
<text y="350.00" fill="#389638" stroke="#389638" stroke-width="0.3" transform="scale(1.1,1)" xml:space="preserve"><tspan x="2.85 7.40 11.94 16.49" font-family='"DejaVu Sans Condensed","DejaVu Sans","Liberation Sans",sans-serif'>1008</tspan></text>
<text y="332.00" fill="#389638" stroke="#389638" stroke-width="0.3" transform="scale(1.1,1)" xml:space="preserve"><tspan x="2.85 7.40 11.94 16.49" font-family='"DejaVu Sans Condensed","DejaVu Sans","Liberation Sans",sans-serif'>1009</tspan></text>
<text y="315.00" fill="#389638" stroke="#389638" stroke-width="0.3" transform="scale(1.1,1)" xml:space="preserve"><tspan x="2.85 7.40 11.94 16.49" font-family='"DejaVu Sans Condensed","DejaVu Sans","Liberation Sans",sans-serif'>1010</tspan></text>
<text y="297.00" fill="#389638" stroke="#389638" stroke-width="0.3" transform="scale(1.1,1)" xml:space="preserve"><tspan x="2.85 7.40 11.94 16.49" font-family='"DejaVu Sans Condensed","DejaVu Sans","Liberation Sans",sans-serif'>1011</tspan></text>
<text y="279.00" fill="#389638" stroke="#389638" stroke-width="0.3" transform="scale(1.1,1)" xml:space="preserve"><tspan x="2.85 7.40 11.94 16.49" font-family='"DejaVu Sans Condensed","DejaVu Sans","Liberation Sans",sans-serif'>1012</tspan></text>
<text y="262.00" fill="#389638" stroke="#389638" stroke-width="0.3" transform="scale(1.1,1)" xml:space="preserve"><tspan x="2.85 7.40 11.94 16.49" font-family='"DejaVu Sans Condensed","DejaVu Sans","Liberation Sans",sans-serif'>1013</tspan></text>
<text y="244.00" fill="#389638" stroke="#389638" stroke-width="0.3" transform="scale(1.1,1)" xml:space="preserve"><tspan x="2.85 7.40 11.94 16.49" font-family='"DejaVu Sans Condensed","DejaVu Sans","Liberation Sans",sans-serif'>1014</tspan></text>
<text y="226.00" fill="#389638" stroke="#389638" stroke-width="0.3" transform="scale(1.1,1)" xml:space="preserve"><tspan x="2.85 7.40 11.94 16.49" font-family='"DejaVu Sans Condensed","DejaVu Sans","Liberation Sans",sans-serif'>1015</tspan></text>
<text y="209.00" fill="#389638" stroke="#389638" stroke-width="0.3" transform="scale(1.1,1)" xml:space="preserve"><tspan x="2.85 7.40 11.94 16.49" font-family='"DejaVu Sans Condensed","DejaVu Sans","Liberation Sans",sans-serif'>1016</tspan></text>
<text y="191.00" fill="#389638" stroke="#389638" stroke-width="0.3" transform="scale(1.1,1)" xml:space="preserve"><tspan x="2.85 7.40 11.94 16.49" font-family='"DejaVu Sans Condensed","DejaVu Sans","Liberation Sans",sans-serif'>1017</tspan></text>
<text y="173.00" fill="#389638" stroke="#389638" stroke-width="0.3" transform="scale(1.1,1)" xml:space="preserve"><tspan x="2.85 7.40 11.94 16.49" font-family='"DejaVu Sans Condensed","DejaVu Sans","Liberation Sans",sans-serif'>1018</tspan></text>
<text y="156.00" fill="#389638" stroke="#389638" stroke-width="0.3" transform="scale(1.1,1)" xml:space="preserve"><tspan x="2.85 7.40 11.94 16.49" font-family='"DejaVu Sans Condensed","DejaVu Sans","Liberation Sans",sans-serif'>1019</tspan></text>
<text y="138.00" fill="#389638" stroke="#389638" stroke-width="0.3" transform="scale(1.1,1)" xml:space="preserve"><tspan x="2.85 7.40 11.94 16.49" font-family='"DejaVu Sans Condensed","DejaVu Sans","Liberation Sans",sans-serif'>1020</tspan></text>
<text y="120.00" fill="#389638" stroke="#389638" stroke-width="0.3" transform="scale(1.1,1)" xml:space="preserve"><tspan x="2.85 7.40 11.94 16.49" font-family='"DejaVu Sans Condensed","DejaVu Sans","Liberation Sans",sans-serif'>1021</tspan></text>
<text y="103.00" fill="#389638" stroke="#389638" stroke-width="0.3" transform="scale(1.1,1)" xml:space="preserve"><tspan x="2.85 7.40 11.94 16.49" font-family='"DejaVu Sans Condensed","DejaVu Sans","Liberation Sans",sans-serif'>1022</tspan></text>
<text y="85.00" fill="#389638" stroke="#389638" stroke-width="0.3" transform="scale(1.1,1)" xml:space="preserve"><tspan x="2.85 7.40 11.94 16.49" font-family='"DejaVu Sans Condensed","DejaVu Sans","Liberation Sans",sans-serif'>1023</tspan></text>
<text y="68.00" fill="#389638" stroke="#389638" stroke-width="0.3" transform="scale(1.1,1)" xml:space="preserve"><tspan x="2.85 7.40 11.94 16.49" font-family='"DejaVu Sans Condensed","DejaVu Sans","Liberation Sans",sans-serif'>1024</tspan></text>
<text y="368.00" fill="#9400d3" stroke="#9400d3" stroke-width="0.3" transform="scale(1.1,1)" xml:space="preserve"><tspan x="36.49" font-family='"DejaVu Sans Condensed","DejaVu Sans","Liberation Sans",sans-serif'>0</tspan></text>
<text y="338.00" fill="#9400d3" stroke="#9400d3" stroke-width="0.3" transform="scale(1.1,1)" xml:space="preserve"><tspan x="31.94 36.49" font-family='"DejaVu Sans Condensed","DejaVu Sans","Liberation Sans",sans-serif'>10</tspan></text>
<text y="308.00" fill="#9400d3" stroke="#9400d3" stroke-width="0.3" transform="scale(1.1,1)" xml:space="preserve"><tspan x="31.94 36.49" font-family='"DejaVu Sans Condensed","DejaVu Sans","Liberation Sans",sans-serif'>20</tspan></text>
<text y="278.00" fill="#9400d3" stroke="#9400d3" stroke-width="0.3" transform="scale(1.1,1)" xml:space="preserve"><tspan x="31.94 36.49" font-family='"DejaVu Sans Condensed","DejaVu Sans","Liberation Sans",sans-serif'>30</tspan></text>
<text y="248.00" fill="#9400d3" stroke="#9400d3" stroke-width="0.3" transform="scale(1.1,1)" xml:space="preserve"><tspan x="31.94 36.49" font-family='"DejaVu Sans Condensed","DejaVu Sans","Liberation Sans",sans-serif'>40</tspan></text>
<text y="218.00" fill="#9400d3" stroke="#9400d3" stroke-width="0.3" transform="scale(1.1,1)" xml:space="preserve"><tspan x="31.94 36.49" font-family='"DejaVu Sans Condensed","DejaVu Sans","Liberation Sans",sans-serif'>50</tspan></text>
<text y="188.00" fill="#9400d3" stroke="#9400d3" stroke-width="0.3" transform="scale(1.1,1)" xml:space="preserve"><tspan x="31.94 36.49" font-family='"DejaVu Sans Condensed","DejaVu Sans","Liberation Sans",sans-serif'>60</tspan></text>
<text y="158.00" fill="#9400d3" stroke="#9400d3" stroke-width="0.3" transform="scale(1.1,1)" xml:space="preserve"><tspan x="31.94 36.49" font-family='"DejaVu Sans Condensed","DejaVu Sans","Liberation Sans",sans-serif'>70</tspan></text>
<text y="128.00" fill="#9400d3" stroke="#9400d3" stroke-width="0.3" transform="scale(1.1,1)" xml:space="preserve"><tspan x="31.94 36.49" font-family='"DejaVu Sans Condensed","DejaVu Sans","Liberation Sans",sans-serif'>80</tspan></text>
<text y="98.00" fill="#9400d3" stroke="#9400d3" stroke-width="0.3" transform="scale(1.1,1)" xml:space="preserve"><tspan x="31.94 36.49" font-family='"DejaVu Sans Condensed","DejaVu Sans","Liberation Sans",sans-serif'>90</tspan></text>
<text y="68.00" fill="#9400d3" stroke="#9400d3" stroke-width="0.3" transform="scale(1.1,1)" xml:space="preserve"><tspan x="27.40 31.94 36.49" font-family='"DejaVu Sans Condensed","DejaVu Sans","Liberation Sans",sans-serif'>100</tspan></text>
<text y="368.00" fill="#ff0000" stroke="#ff0000" stroke-width="0.3" transform="scale(1.1,1)" xml:space="preserve"><tspan x="55.58" font-family='"DejaVu Sans Condensed","DejaVu Sans","Liberation Sans",sans-serif'>1</tspan></text>
<text y="347.00" fill="#ff0000" stroke="#ff0000" stroke-width="0.3" transform="scale(1.1,1)" xml:space="preserve"><tspan x="55.58" font-family='"DejaVu Sans Condensed","DejaVu Sans","Liberation Sans",sans-serif'>3</tspan></text>
<text y="326.00" fill="#ff0000" stroke="#ff0000" stroke-width="0.3" transform="scale(1.1,1)" xml:space="preserve"><tspan x="55.58" font-family='"DejaVu Sans Condensed","DejaVu Sans","Liberation Sans",sans-serif'>5</tspan></text>
<text y="305.00" fill="#ff0000" stroke="#ff0000" stroke-width="0.3" transform="scale(1.1,1)" xml:space="preserve"><tspan x="55.58" font-family='"DejaVu Sans Condensed","DejaVu Sans","Liberation Sans",sans-serif'>7</tspan></text>
<text y="285.00" fill="#ff0000" stroke="#ff0000" stroke-width="0.3" transform="scale(1.1,1)" xml:space="preserve"><tspan x="55.58" font-family='"DejaVu Sans Condensed","DejaVu Sans","Liberation Sans",sans-serif'>9</tspan></text>
<text y="264.00" fill="#ff0000" stroke="#ff0000" stroke-width="0.3" transform="scale(1.1,1)" xml:space="preserve"><tspan x="51.04 55.58" font-family='"DejaVu Sans Condensed","DejaVu Sans","Liberation Sans",sans-serif'>11</tspan></text>
<text y="243.00" fill="#ff0000" stroke="#ff0000" stroke-width="0.3" transform="scale(1.1,1)" xml:space="preserve"><tspan x="51.04 55.58" font-family='"DejaVu Sans Condensed","DejaVu Sans","Liberation Sans",sans-serif'>13</tspan></text>
<text y="223.00" fill="#ff0000" stroke="#ff0000" stroke-width="0.3" transform="scale(1.1,1)" xml:space="preserve"><tspan x="51.04 55.58" font-family='"DejaVu Sans Condensed","DejaVu Sans","Liberation Sans",sans-serif'>15</tspan></text>
<text y="202.00" fill="#ff0000" stroke="#ff0000" stroke-width="0.3" transform="scale(1.1,1)" xml:space="preserve"><tspan x="51.04 55.58" font-family='"DejaVu Sans Condensed","DejaVu Sans","Liberation Sans",sans-serif'>17</tspan></text>
<text y="181.00" fill="#ff0000" stroke="#ff0000" stroke-width="0.3" transform="scale(1.1,1)" xml:space="preserve"><tspan x="51.04 55.58" font-family='"DejaVu Sans Condensed","DejaVu Sans","Liberation Sans",sans-serif'>19</tspan></text>
<text y="161.00" fill="#ff0000" stroke="#ff0000" stroke-width="0.3" transform="scale(1.1,1)" xml:space="preserve"><tspan x="51.04 55.58" font-family='"DejaVu Sans Condensed","DejaVu Sans","Liberation Sans",sans-serif'>21</tspan></text>
<text y="140.00" fill="#ff0000" stroke="#ff0000" stroke-width="0.3" transform="scale(1.1,1)" xml:space="preserve"><tspan x="51.04 55.58" font-family='"DejaVu Sans Condensed","DejaVu Sans","Liberation Sans",sans-serif'>23</tspan></text>
<text y="119.00" fill="#ff0000" stroke="#ff0000" stroke-width="0.3" transform="scale(1.1,1)" xml:space="preserve"><tspan x="51.04 55.58" font-family='"DejaVu Sans Condensed","DejaVu Sans","Liberation Sans",sans-serif'>25</tspan></text>
<text y="99.00" fill="#ff0000" stroke="#ff0000" stroke-width="0.3" transform="scale(1.1,1)" xml:space="preserve"><tspan x="51.04 55.58" font-family='"DejaVu Sans Condensed","DejaVu Sans","Liberation Sans",sans-serif'>27</tspan></text>
<text y="78.00" fill="#ff0000" stroke="#ff0000" stroke-width="0.3" transform="scale(1.1,1)" xml:space="preserve"><tspan x="51.04 55.58" font-family='"DejaVu Sans Condensed","DejaVu Sans","Liberation Sans",sans-serif'>29</tspan></text>
<text y="368.00" fill="#000000" stroke="#000000" stroke-width="0.3" transform="scale(1.1,1)" xml:space="preserve"><tspan x="678.31" font-family='"DejaVu Sans Condensed","DejaVu Sans","Liberation Sans",sans-serif'>0</tspan></text>
<text y="334.00" fill="#000000" stroke="#000000" stroke-width="0.3" transform="scale(1.1,1)" xml:space="preserve"><tspan x="678.31" font-family='"DejaVu Sans Condensed","DejaVu Sans","Liberation Sans",sans-serif'>1</tspan></text>
<text y="301.00" fill="#000000" stroke="#000000" stroke-width="0.3" transform="scale(1.1,1)" xml:space="preserve"><tspan x="678.31" font-family='"DejaVu Sans Condensed","DejaVu Sans","Liberation Sans",sans-serif'>2</tspan></text>
<text y="268.00" fill="#000000" stroke="#000000" stroke-width="0.3" transform="scale(1.1,1)" xml:space="preserve"><tspan x="678.31" font-family='"DejaVu Sans Condensed","DejaVu Sans","Liberation Sans",sans-serif'>3</tspan></text>
<text y="234.00" fill="#000000" stroke="#000000" stroke-width="0.3" transform="scale(1.1,1)" xml:space="preserve"><tspan x="678.31" font-family='"DejaVu Sans Condensed","DejaVu Sans","Liberation Sans",sans-serif'>4</tspan></text>
<text y="368.00" fill="#00bfff" stroke="#00bfff" stroke-width="0.3" transform="scale(1.1,1)" xml:space="preserve"><tspan x="693.76" font-family='"DejaVu Sans Condensed","DejaVu Sans","Liberation Sans",sans-serif'>0</tspan></text>
<text y="68.00" fill="#00bfff" stroke="#00bfff" stroke-width="0.3" transform="scale(1.1,1)" xml:space="preserve"><tspan x="693.76" font-family='"DejaVu Sans Condensed","DejaVu Sans","Liberation Sans",sans-serif'>1</tspan></text>
<text y="368.00" fill="#ff8200" stroke="#ff8200" stroke-width="0.3" transform="scale(1.1,1)" xml:space="preserve"><tspan x="707.40" font-family='"DejaVu Sans Condensed","DejaVu Sans","Liberation Sans",sans-serif'>0</tspan></text>
<text y="352.00" fill="#ff8200" stroke="#ff8200" stroke-width="0.3" transform="scale(1.1,1)" xml:space="preserve"><tspan x="707.40 711.94" font-family='"DejaVu Sans Condensed","DejaVu Sans","Liberation Sans",sans-serif'>72</tspan></text>
<text y="337.00" fill="#ff8200" stroke="#ff8200" stroke-width="0.3" transform="scale(1.1,1)" xml:space="preserve"><tspan x="707.40 711.94 716.49" font-family='"DejaVu Sans Condensed","DejaVu Sans","Liberation Sans",sans-serif'>144</tspan></text>
<text y="322.00" fill="#ff8200" stroke="#ff8200" stroke-width="0.3" transform="scale(1.1,1)" xml:space="preserve"><tspan x="707.40 711.94 716.49" font-family='"DejaVu Sans Condensed","DejaVu Sans","Liberation Sans",sans-serif'>216</tspan></text>
<text y="307.00" fill="#ff8200" stroke="#ff8200" stroke-width="0.3" transform="scale(1.1,1)" xml:space="preserve"><tspan x="707.40 711.94 716.49" font-family='"DejaVu Sans Condensed","DejaVu Sans","Liberation Sans",sans-serif'>288</tspan></text>
<text y="292.00" fill="#ff8200" stroke="#ff8200" stroke-width="0.3" transform="scale(1.1,1)" xml:space="preserve"><tspan x="707.40 711.94 716.49" font-family='"DejaVu Sans Condensed","DejaVu Sans","Liberation Sans",sans-serif'>360</tspan></text>
<text y="277.00" fill="#ff8200" stroke="#ff8200" stroke-width="0.3" transform="scale(1.1,1)" xml:space="preserve"><tspan x="707.40 711.94 716.49" font-family='"DejaVu Sans Condensed","DejaVu Sans","Liberation Sans",sans-serif'>432</tspan></text>
<text y="262.00" fill="#ff8200" stroke="#ff8200" stroke-width="0.3" transform="scale(1.1,1)" xml:space="preserve"><tspan x="707.40 711.94 716.49" font-family='"DejaVu Sans Condensed","DejaVu Sans","Liberation Sans",sans-serif'>504</tspan></text>
<text y="247.00" fill="#ff8200" stroke="#ff8200" stroke-width="0.3" transform="scale(1.1,1)" xml:space="preserve"><tspan x="707.40 711.94 716.49" font-family='"DejaVu Sans Condensed","DejaVu Sans","Liberation Sans",sans-serif'>576</tspan></text>
<text y="232.00" fill="#ff8200" stroke="#ff8200" stroke-width="0.3" transform="scale(1.1,1)" xml:space="preserve"><tspan x="707.40 711.94 716.49" font-family='"DejaVu Sans Condensed","DejaVu Sans","Liberation Sans",sans-serif'>648</tspan></text>
<text y="330.00" fill="#555555" stroke="#555555" stroke-width="0.2" transform="scale(1.1,1)" xml:space="preserve"><tspan x="659.22 663.76" font-family='"DejaVu Sans Condensed","DejaVu Sans","Liberation Sans",sans-serif'>45</tspan></text>
<text y="338.00" fill="#555555" stroke="#555555" stroke-width="0.3" transform="scale(1.1,1)" xml:space="preserve"><tspan x="660.01 664.56">NE</tspan></text>
<text y="293.00" fill="#555555" stroke="#555555" stroke-width="0.2" transform="scale(1.1,1)" xml:space="preserve"><tspan x="659.22 663.76" font-family='"DejaVu Sans Condensed","DejaVu Sans","Liberation Sans",sans-serif'>90</tspan></text>
<text y="301.00" fill="#555555" stroke="#555555" stroke-width="0.3" transform="scale(1.1,1)" xml:space="preserve"><tspan x="660.01 664.56"> E</tspan></text>
<text y="255.00" fill="#555555" stroke="#555555" stroke-width="0.2" transform="scale(1.1,1)" xml:space="preserve"><tspan x="659.22 663.76 668.31" font-family='"DejaVu Sans Condensed","DejaVu Sans","Liberation Sans",sans-serif'>135</tspan></text>
<text y="263.00" fill="#555555" stroke="#555555" stroke-width="0.3" transform="scale(1.1,1)" xml:space="preserve"><tspan x="660.01 664.56">SE</tspan></text>
<text y="218.00" fill="#555555" stroke="#555555" stroke-width="0.2" transform="scale(1.1,1)" xml:space="preserve"><tspan x="659.22 663.76 668.31" font-family='"DejaVu Sans Condensed","DejaVu Sans","Liberation Sans",sans-serif'>180</tspan></text>
<text y="226.00" fill="#555555" stroke="#555555" stroke-width="0.3" transform="scale(1.1,1)" xml:space="preserve"><tspan x="660.01 664.56"> S</tspan></text>
<text y="180.00" fill="#555555" stroke="#555555" stroke-width="0.2" transform="scale(1.1,1)" xml:space="preserve"><tspan x="659.22 663.76 668.31" font-family='"DejaVu Sans Condensed","DejaVu Sans","Liberation Sans",sans-serif'>225</tspan></text>
<text y="188.00" fill="#555555" stroke="#555555" stroke-width="0.3" transform="scale(1.1,1)" xml:space="preserve"><tspan x="660.01 664.56">SW</tspan></text>
<text y="143.00" fill="#555555" stroke="#555555" stroke-width="0.2" transform="scale(1.1,1)" xml:space="preserve"><tspan x="659.22 663.76 668.31" font-family='"DejaVu Sans Condensed","DejaVu Sans","Liberation Sans",sans-serif'>270</tspan></text>
<text y="151.00" fill="#555555" stroke="#555555" stroke-width="0.3" transform="scale(1.1,1)" xml:space="preserve"><tspan x="660.01 664.56"> W</tspan></text>
<text y="105.00" fill="#555555" stroke="#555555" stroke-width="0.2" transform="scale(1.1,1)" xml:space="preserve"><tspan x="659.22 663.76 668.31" font-family='"DejaVu Sans Condensed","DejaVu Sans","Liberation Sans",sans-serif'>315</tspan></text>
<text y="113.00" fill="#555555" stroke="#555555" stroke-width="0.3" transform="scale(1.1,1)" xml:space="preserve"><tspan x="660.01 664.56">NW</tspan></text>
<text y="68.00" fill="#555555" stroke="#555555" stroke-width="0.2" transform="scale(1.1,1)" xml:space="preserve"><tspan x="659.22 663.76 668.31" font-family='"DejaVu Sans Condensed","DejaVu Sans","Liberation Sans",sans-serif'>360</tspan></text>
<text y="76.00" fill="#555555" stroke="#555555" stroke-width="0.3" transform="scale(1.1,1)" xml:space="preserve"><tspan x="660.01 664.56"> N</tspan></text>
<g transform="translate(73.4,396.6) rotate(-90)">
<text y="0.00" fill="#000000" stroke="#000000" stroke-width="0.3" transform="scale(1.1,1)" xml:space="preserve"><tspan x="0.13 4.67 10.23 13.76 18.31" font-family='"DejaVu Sans Condensed","DejaVu Sans","Liberation Sans",sans-serif'>01:00</tspan></text>
</g>
<g transform="translate(104.4,396.6) rotate(-90)">
<text y="0.00" fill="#000000" stroke="#000000" stroke-width="0.3" transform="scale(1.1,1)" xml:space="preserve"><tspan x="0.13 4.67 10.23 13.76 18.31" font-family='"DejaVu Sans Condensed","DejaVu Sans","Liberation Sans",sans-serif'>02:00</tspan></text>
</g>
<g transform="translate(135.4,396.6) rotate(-90)">
<text y="0.00" fill="#000000" stroke="#000000" stroke-width="0.3" transform="scale(1.1,1)" xml:space="preserve"><tspan x="0.13 4.67 10.23 13.76 18.31" font-family='"DejaVu Sans Condensed","DejaVu Sans","Liberation Sans",sans-serif'>03:00</tspan></text>
</g>
<g transform="translate(166.4,396.6) rotate(-90)">
<text y="0.00" fill="#000000" stroke="#000000" stroke-width="0.3" transform="scale(1.1,1)" xml:space="preserve"><tspan x="0.13 4.67 10.23 13.76 18.31" font-family='"DejaVu Sans Condensed","DejaVu Sans","Liberation Sans",sans-serif'>04:00</tspan></text>
</g>
<g transform="translate(197.4,396.6) rotate(-90)">
<text y="0.00" fill="#000000" stroke="#000000" stroke-width="0.3" transform="scale(1.1,1)" xml:space="preserve"><tspan x="0.13 4.67 10.23 13.76 18.31" font-family='"DejaVu Sans Condensed","DejaVu Sans","Liberation Sans",sans-serif'>05:00</tspan></text>
</g>
<g transform="translate(228.4,396.6) rotate(-90)">
<text y="0.00" fill="#000000" stroke="#000000" stroke-width="0.3" transform="scale(1.1,1)" xml:space="preserve"><tspan x="0.13 4.67 10.23 13.76 18.31" font-family='"DejaVu Sans Condensed","DejaVu Sans","Liberation Sans",sans-serif'>06:00</tspan></text>
</g>
<g transform="translate(259.4,396.6) rotate(-90)">
<text y="0.00" fill="#000000" stroke="#000000" stroke-width="0.3" transform="scale(1.1,1)" xml:space="preserve"><tspan x="0.13 4.67 10.23 13.76 18.31" font-family='"DejaVu Sans Condensed","DejaVu Sans","Liberation Sans",sans-serif'>07:00</tspan></text>
</g>
<g transform="translate(290.4,396.6) rotate(-90)">
<text y="0.00" fill="#000000" stroke="#000000" stroke-width="0.3" transform="scale(1.1,1)" xml:space="preserve"><tspan x="0.13 4.67 10.23 13.76 18.31" font-family='"DejaVu Sans Condensed","DejaVu Sans","Liberation Sans",sans-serif'>08:00</tspan></text>
</g>
<g transform="translate(321.4,396.6) rotate(-90)">
<text y="0.00" fill="#000000" stroke="#000000" stroke-width="0.3" transform="scale(1.1,1)" xml:space="preserve"><tspan x="0.13 4.67 10.23 13.76 18.31" font-family='"DejaVu Sans Condensed","DejaVu Sans","Liberation Sans",sans-serif'>09:00</tspan></text>
</g>
<g transform="translate(352.4,396.6) rotate(-90)">
<text y="0.00" fill="#000000" stroke="#000000" stroke-width="0.3" transform="scale(1.1,1)" xml:space="preserve"><tspan x="0.13 4.67 10.23 13.76 18.31" font-family='"DejaVu Sans Condensed","DejaVu Sans","Liberation Sans",sans-serif'>10:00</tspan></text>
</g>
<g transform="translate(383.4,396.6) rotate(-90)">
<text y="0.00" fill="#000000" stroke="#000000" stroke-width="0.3" transform="scale(1.1,1)" xml:space="preserve"><tspan x="0.13 4.67 10.23 13.76 18.31" font-family='"DejaVu Sans Condensed","DejaVu Sans","Liberation Sans",sans-serif'>11:00</tspan></text>
</g>
<g transform="translate(415.4,396.6) rotate(-90)">
<text y="0.00" fill="#000000" stroke="#000000" stroke-width="0.3" transform="scale(1.1,1)" xml:space="preserve"><tspan x="0.13 4.67 10.23 13.76 18.31" font-family='"DejaVu Sans Condensed","DejaVu Sans","Liberation Sans",sans-serif'>12:00</tspan></text>
</g>
<g transform="translate(446.4,396.6) rotate(-90)">
<text y="0.00" fill="#000000" stroke="#000000" stroke-width="0.3" transform="scale(1.1,1)" xml:space="preserve"><tspan x="0.13 4.67 10.23 13.76 18.31" font-family='"DejaVu Sans Condensed","DejaVu Sans","Liberation Sans",sans-serif'>13:00</tspan></text>
</g>
<g transform="translate(477.4,396.6) rotate(-90)">
<text y="0.00" fill="#000000" stroke="#000000" stroke-width="0.3" transform="scale(1.1,1)" xml:space="preserve"><tspan x="0.13 4.67 10.23 13.76 18.31" font-family='"DejaVu Sans Condensed","DejaVu Sans","Liberation Sans",sans-serif'>14:00</tspan></text>
</g>
<g transform="translate(508.4,396.6) rotate(-90)">
<text y="0.00" fill="#000000" stroke="#000000" stroke-width="0.3" transform="scale(1.1,1)" xml:space="preserve"><tspan x="0.13 4.67 10.23 13.76 18.31" font-family='"DejaVu Sans Condensed","DejaVu Sans","Liberation Sans",sans-serif'>15:00</tspan></text>
</g>
<g transform="translate(539.4,396.6) rotate(-90)">
<text y="0.00" fill="#000000" stroke="#000000" stroke-width="0.3" transform="scale(1.1,1)" xml:space="preserve"><tspan x="0.13 4.67 10.23 13.76 18.31" font-family='"DejaVu Sans Condensed","DejaVu Sans","Liberation Sans",sans-serif'>16:00</tspan></text>
</g>
<g transform="translate(570.4,396.6) rotate(-90)">
<text y="0.00" fill="#000000" stroke="#000000" stroke-width="0.3" transform="scale(1.1,1)" xml:space="preserve"><tspan x="0.13 4.67 10.23 13.76 18.31" font-family='"DejaVu Sans Condensed","DejaVu Sans","Liberation Sans",sans-serif'>18:00</tspan></text>
</g>
<g transform="translate(601.4,396.6) rotate(-90)">
<text y="0.00" fill="#000000" stroke="#000000" stroke-width="0.3" transform="scale(1.1,1)" xml:space="preserve"><tspan x="0.13 4.67 10.23 13.76 18.31" font-family='"DejaVu Sans Condensed","DejaVu Sans","Liberation Sans",sans-serif'>19:00</tspan></text>
</g>
<g transform="translate(632.4,396.6) rotate(-90)">
<text y="0.00" fill="#000000" stroke="#000000" stroke-width="0.3" transform="scale(1.1,1)" xml:space="preserve"><tspan x="0.13 4.67 10.23 13.76 18.31" font-family='"DejaVu Sans Condensed","DejaVu Sans","Liberation Sans",sans-serif'>20:00</tspan></text>
</g>
<g transform="translate(663.4,396.6) rotate(-90)">
<text y="0.00" fill="#000000" stroke="#000000" stroke-width="0.3" transform="scale(1.1,1)" xml:space="preserve"><tspan x="0.13 4.67 10.23 13.76 18.31" font-family='"DejaVu Sans Condensed","DejaVu Sans","Liberation Sans",sans-serif'>21:00</tspan></text>
</g>
<g transform="translate(694.4,396.6) rotate(-90)">
<text y="0.00" fill="#000000" stroke="#000000" stroke-width="0.3" transform="scale(1.1,1)" xml:space="preserve"><tspan x="0.13 4.67 10.23 13.76 18.31" font-family='"DejaVu Sans Condensed","DejaVu Sans","Liberation Sans",sans-serif'>22:00</tspan></text>
</g>
<g transform="translate(726.4,396.6) rotate(-90)">
<text y="0.00" fill="#000000" stroke="#000000" stroke-width="0.3" transform="scale(1.1,1)" xml:space="preserve"><tspan x="0.13 4.67 10.23 13.76 18.31" font-family='"DejaVu Sans Condensed","DejaVu Sans","Liberation Sans",sans-serif'>23:00</tspan></text>
</g>
</g>
<circle cx="256.5" cy="360.5" r="3.35" fill="#ffff00" stroke="#000" stroke-width="1.45"/>
<path d="M256.5 356.0v9M252.0 360.5h9" stroke="#000" stroke-width="1" fill="none" shape-rendering="crispEdges" style="mix-blend-mode:darken"/>
<circle cx="256.5" cy="360.5" r="2.6" fill="#ffff00"/>
<circle cx="567.5" cy="360.5" r="3.35" fill="#ffff00" stroke="#000" stroke-width="1.45"/>
<path d="M567.5 356.0v9M563.0 360.5h9" stroke="#000" stroke-width="1" fill="none" shape-rendering="crispEdges" style="mix-blend-mode:darken"/>
<circle cx="567.5" cy="360.5" r="2.6" fill="#ffff00"/>
<g shape-rendering="crispEdges" fill="#000"><rect x="496" y="358" width="7" height="5"/><rect x="497" y="357" width="5" height="7"/><rect x="499" y="356" width="1" height="9"/></g>
<g shape-rendering="crispEdges" fill="#000"><rect x="3" y="358" width="7" height="5"/><rect x="4" y="357" width="5" height="7"/><rect x="6" y="356" width="1" height="9"/></g>
<g shape-rendering="crispEdges">
<rect x="505" y="354" width="1" height="14" fill="#000000"/>
<rect x="504" y="355" width="3" height="1" fill="#000"/>
<rect x="503" y="356" width="1" height="1" fill="#000"/><rect x="507" y="356" width="1" height="1" fill="#000"/>
<rect x="1" y="364" width="1" height="2" fill="#000"/><rect x="2" y="363" width="1" height="1" fill="#000"/>
</g>
</svg>
</body>
</html>
